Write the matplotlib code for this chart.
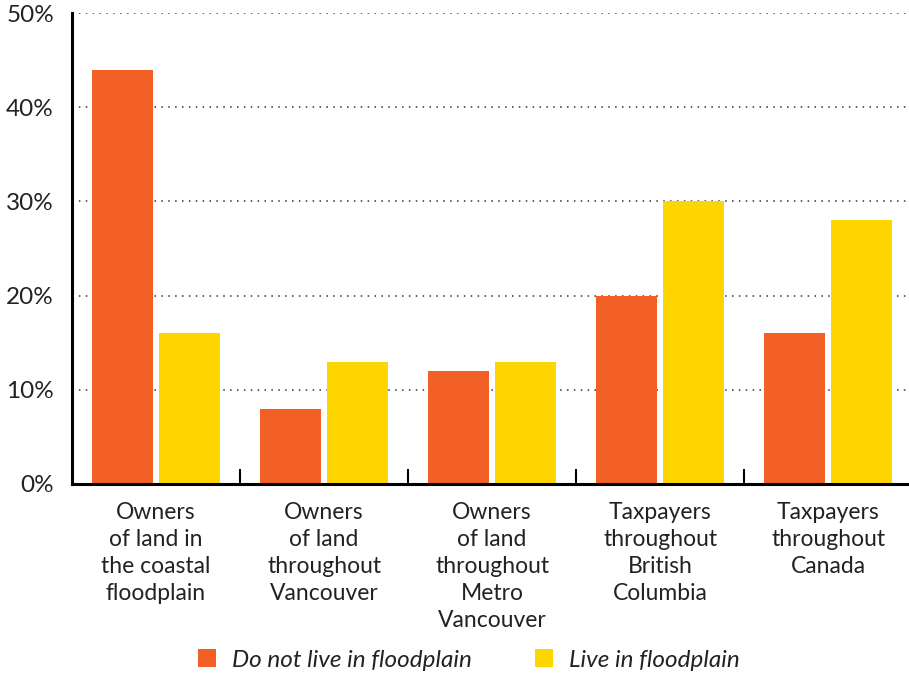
import matplotlib
matplotlib.use("Agg")
import matplotlib.pyplot as plt
from matplotlib.patches import Patch
import numpy as np

plt.rcParams['font.family'] = ['Lato', 'DejaVu Sans']

categories = [
    "Owners\nof land in\nthe coastal\nfloodplain",
    "Owners\nof land\nthroughout\nVancouver",
    "Owners\nof land\nthroughout\nMetro\nVancouver",
    "Taxpayers\nthroughout\nBritish\nColumbia",
    "Taxpayers\nthroughout\nCanada",
]
not_in_floodplain = [44, 8, 12, 20, 16]
in_floodplain = [16, 13, 13, 30, 28]
series_names = ["Do not live in floodplain", "Live in floodplain"]
y_ticks = [0, 10, 20, 30, 40, 50]
y_tick_labels = ["0%", "10%", "20%", "30%", "40%", "50%"]

ORANGE = "#F26025"
YELLOW = "#FFD500"
TEXT = "#222222"

fig = plt.figure(figsize=(9.09, 6.75), dpi=100)
ax = fig.add_axes([72 / 909, 191 / 675, 837 / 909, 471 / 675])

x = np.arange(len(categories))
w = 0.363
off = 0.199
ax.bar(x - off, not_in_floodplain, width=w, color=ORANGE, zorder=2)
ax.bar(x + off, in_floodplain, width=w, color=YELLOW, zorder=2)

ax.set_xlim(-0.5, 4.48)
ax.set_ylim(0, 50)

# dotted grid lines at each 10%
for v in y_ticks[1:]:
    ax.axhline(v, color="#333333", linestyle=(0, (1, 3.5)), linewidth=1.1, zorder=1)

ax.set_yticks(y_ticks)
ax.set_yticklabels(y_tick_labels, fontsize=17.5, color=TEXT)
ax.tick_params(axis="y", length=0, pad=13)

# group separators as inward ticks on the baseline
ax.set_xticks(np.arange(0.5, len(categories) - 1, 1.0))
ax.set_xticklabels([])
ax.tick_params(axis="x", direction="in", length=11, width=1.5, color="black")

for xi, label in zip(x, categories):
    ax.text(xi, -1.9, label, ha="center", va="top", fontsize=16.5, color=TEXT,
            linespacing=1.36, transform=ax.transData)

for side in ("top", "right"):
    ax.spines[side].set_visible(False)
ax.spines["left"].set_linewidth(2.2)
ax.spines["bottom"].set_linewidth(2.2)
ax.spines["left"].set_zorder(3)
ax.spines["bottom"].set_zorder(3)

handles = [Patch(facecolor=ORANGE, label=series_names[0]),
           Patch(facecolor=YELLOW, label=series_names[1])]
fig.legend(handles=handles, loc="center", bbox_to_anchor=(0.516, 0.022),
           ncol=2, frameon=False, prop={"style": "italic", "size": 17.5},
           handlelength=0.75, handleheight=0.75, handletextpad=0.65,
           columnspacing=2.6, labelcolor=TEXT)

fig.savefig("out.png", dpi=100)
